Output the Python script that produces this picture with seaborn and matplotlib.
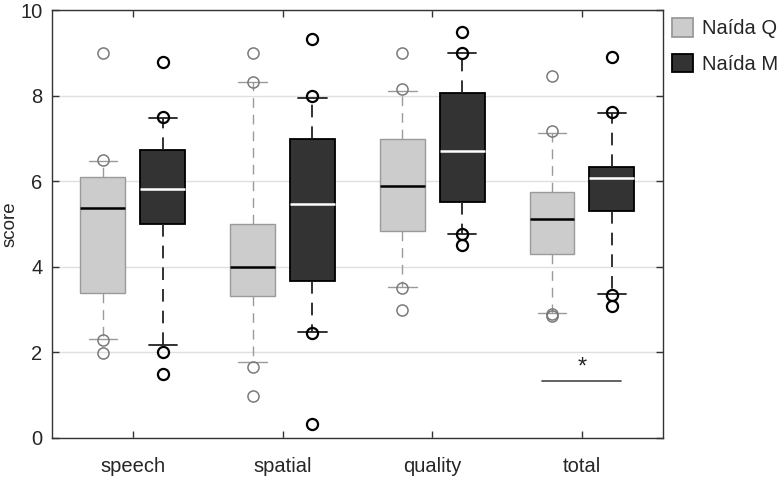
import matplotlib
matplotlib.use("Agg")
import matplotlib.pyplot as plt
import seaborn as sns
from matplotlib.patches import Patch

sns.set_style("white")
plt.rcParams['font.family'] = ['Liberation Sans', 'DejaVu Sans']

categories = ["speech", "spatial", "quality", "total"]
groups = ["Naída Q", "Naída M"]

# Naída Q stats per category
q_q1 = [3.40, 3.33, 4.83, 4.29]
q_med = [5.37, 4.00, 5.90, 5.12]
q_q3 = [6.09, 5.00, 6.99, 5.75]
q_wlo = [2.31, 1.78, 3.54, 2.93]
q_whi = [6.47, 8.33, 8.12, 7.14]
q_fliers = [[9.0, 6.49, 2.30, 1.99],
            [9.0, 8.33, 1.66, 0.99],
            [9.0, 8.16, 3.50, 3.00],
            [8.46, 7.18, 2.91, 2.85]]

# Naída M stats per category
m_q1 = [5.00, 3.67, 5.51, 5.31]
m_med = [5.81, 5.48, 6.71, 6.07]
m_q3 = [6.74, 6.99, 8.07, 6.33]
m_wlo = [2.17, 2.48, 4.78, 3.36]
m_whi = [7.49, 7.94, 8.99, 7.59]
m_fliers = [[8.8, 7.50, 2.00, 1.50],
            [9.33, 7.99, 2.45, 0.33],
            [9.49, 9.00, 4.77, 4.51],
            [8.91, 7.62, 3.35, 3.08]]

yticks = [0, 2, 4, 6, 8, 10]
sig_text = "*"

fig = plt.figure(figsize=(7.8, 4.79), dpi=100)
ax = fig.add_axes([0.0667, 0.0856, 0.783, 0.893])

positions = list(range(1, len(categories) + 1))

def make_stats(q1, med, q3, wlo, whi, fl):
    return [dict(q1=a, med=b, q3=c, whislo=d, whishi=e, fliers=f)
            for a, b, c, d, e, f in zip(q1, med, q3, wlo, whi, fl)]

styles = {
    "Naída Q": dict(face="#cccccc", edge="#9a9a9a", median="black",
                    whisk="#9a9a9a", flier="#7a7a7a", lw=1.0, fw=1.1),
    "Naída M": dict(face="#333333", edge="black", median="white",
                    whisk="#222222", flier="black", lw=1.3, fw=1.6),
}

for g, stats, off in [("Naída Q", make_stats(q_q1, q_med, q_q3, q_wlo, q_whi, q_fliers), -0.2),
                      ("Naída M", make_stats(m_q1, m_med, m_q3, m_wlo, m_whi, m_fliers), 0.2)]:
    s = styles[g]
    ax.bxp(stats, positions=[p + off for p in positions], widths=0.3,
           patch_artist=True, capwidths=0.19,
           boxprops=dict(facecolor=s["face"], edgecolor=s["edge"], linewidth=s["lw"]),
           medianprops=dict(color=s["median"], linewidth=1.8, solid_capstyle="butt"),
           whiskerprops=dict(color=s["whisk"], linewidth=s["lw"], linestyle=(0, (7, 5))),
           capprops=dict(color=s["whisk"], linewidth=s["lw"]),
           flierprops=dict(marker="o", markersize=8, markerfacecolor="none",
                           markeredgecolor=s["flier"], markeredgewidth=s["fw"]),
           manage_ticks=False, zorder=3)

ax.set_xlim(0.46, 4.54)
ax.set_ylim(0, 10)
ax.set_xticks(positions)
ax.set_xticklabels(categories, fontsize=14.5)
ax.set_yticks(yticks)
ax.set_yticklabels([str(t) for t in yticks], fontsize=14.5)
ax.set_ylabel("score", fontsize=13.5)
ax.yaxis.set_label_coords(-0.069, 0.5)
ax.yaxis.label.set_verticalalignment("center")
ax.yaxis.grid(True, color="#e0e0e0", linewidth=1.0, zorder=0)
ax.set_axisbelow(True)
ax.tick_params(axis="both", direction="in", length=5, width=1, color="#333333",
               top=True, right=True, bottom=True, left=True)
ax.tick_params(axis="x", pad=14)
ax.tick_params(axis="y", pad=7)
for sp in ax.spines.values():
    sp.set_color("#333333")
    sp.set_linewidth(1.0)

# significance marker
ax.plot([3.73, 4.26], [1.34, 1.34], color="#555555", linewidth=1.3, zorder=4)
ax.text(4.0, 1.38, sig_text, ha="center", va="bottom", fontsize=17)

handles = [Patch(facecolor=styles[g]["face"], edgecolor=styles[g]["edge"],
                 linewidth=1.3) for g in groups]
fig.legend(handles, groups, loc="upper left", bbox_to_anchor=(0.861, 0.962),
           frameon=False, fontsize=14.5, handlelength=1.05, handleheight=1.05,
           handletextpad=0.45, labelspacing=0.75, borderpad=0, borderaxespad=0)

fig.savefig("out.png", dpi=100)
